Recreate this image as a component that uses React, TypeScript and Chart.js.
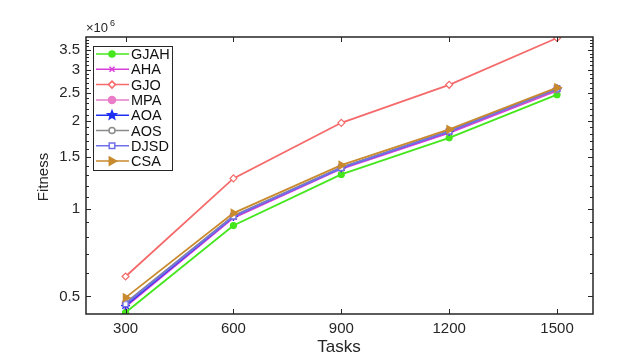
import React, { useEffect, useRef } from "react";
import { Chart, registerables } from "chart.js";

Chart.register(...registerables);

const tasks = [300, 600, 900, 1200, 1500];
const seriesNames = ["GJAH", "AHA", "GJO", "MPA", "AOA", "AOS", "DJSD", "CSA"];
const GJAH = [0.44, 0.875, 1.31, 1.75, 2.46];
const AHA = [0.46, 0.93, 1.37, 1.82, 2.54];
const GJO = [0.585, 1.27, 1.97, 2.66, 3.85];
const MPA = [0.47, 0.94, 1.38, 1.84, 2.57];
const AOA = [0.465, 0.94, 1.38, 1.84, 2.58];
const AOS = [0.475, 0.945, 1.385, 1.845, 2.57];
const DJSD = [0.47, 0.94, 1.38, 1.84, 2.58];
const CSA = [0.495, 0.965, 1.41, 1.87, 2.6];
const yTickLabels = [0.5, 1, 1.5, 2, 2.5, 3, 3.5];
const scaleFactor = 1e6;

const seriesValues = [GJAH, AHA, GJO, MPA, AOA, AOS, DJSD, CSA];
const colors = ["#44e61c", "#d93fd9", "#f56a6a", "#ea7cc8", "#1f2ff0", "#8a8a8a", "#7070e8", "#c98a2e"];
const markers: any[] = ["circle", "crossRot", "rectRot", "circle", "star", "circle", "rect", "triangle"];
const markerFilled = [true, false, false, true, true, false, false, true];
const markerRadius = [3, 2.5, 3.5, 3.5, 4.5, 3, 3.5, 4.5];
const markerRotation = [0, 0, 0, 0, 0, 0, 0, 90];

const FONT = "'Liberation Sans', Arial, Helvetica, sans-serif";

function drawMarker(ctx: CanvasRenderingContext2D, style: string, r: number, rot: number, x: number, y: number) {
  ctx.save();
  ctx.translate(x, y);
  ctx.rotate((rot * Math.PI) / 180);
  ctx.beginPath();
  if (style === "circle") {
    ctx.arc(0, 0, r, 0, Math.PI * 2);
    ctx.fill();
    ctx.stroke();
  } else if (style === "rect") {
    const s = r * 0.8;
    ctx.rect(-s, -s, 2 * s, 2 * s);
    ctx.fill();
    ctx.stroke();
  } else if (style === "rectRot") {
    ctx.moveTo(0, -r);
    ctx.lineTo(r, 0);
    ctx.lineTo(0, r);
    ctx.lineTo(-r, 0);
    ctx.closePath();
    ctx.fill();
    ctx.stroke();
  } else if (style === "triangle") {
    ctx.moveTo(0, -r);
    ctx.lineTo(r * 0.9, r * 0.6);
    ctx.lineTo(-r * 0.9, r * 0.6);
    ctx.closePath();
    ctx.fill();
    ctx.stroke();
  } else if (style === "crossRot") {
    ctx.moveTo(-r, -r);
    ctx.lineTo(r, r);
    ctx.moveTo(r, -r);
    ctx.lineTo(-r, r);
    ctx.stroke();
  } else if (style === "star") {
    for (let k = 0; k < 5; k++) {
      const a1 = -Math.PI / 2 + (k * 2 * Math.PI) / 5;
      const a2 = a1 + Math.PI / 5;
      ctx.lineTo(Math.cos(a1) * r, Math.sin(a1) * r);
      ctx.lineTo(Math.cos(a2) * r * 0.45, Math.sin(a2) * r * 0.45);
    }
    ctx.closePath();
    ctx.fill();
    ctx.stroke();
  }
  ctx.restore();
}

const overlay = {
  id: "overlay",
  afterDraw(chart: any) {
    const ctx = chart.ctx as CanvasRenderingContext2D;
    const { left, right, top, bottom } = chart.chartArea;
    const ys = chart.scales.y;
    const xs = chart.scales.x;
    ctx.save();
    ctx.strokeStyle = "#262626";
    ctx.lineWidth = 1.5;
    ctx.strokeRect(left, top, right - left, bottom - top);
    ctx.lineWidth = 1;
    for (let v = 0.5; v <= 3.85; v += 0.1) {
      const y = Math.round(ys.getPixelForValue(v * scaleFactor)) + 0.5;
      if (y < top || y > bottom) continue;
      ctx.beginPath();
      ctx.moveTo(left, y);
      ctx.lineTo(left + 3, y);
      ctx.moveTo(right, y);
      ctx.lineTo(right - 3, y);
      ctx.stroke();
    }
    for (const v of yTickLabels) {
      const y = Math.round(ys.getPixelForValue(v * scaleFactor)) + 0.5;
      ctx.beginPath();
      ctx.moveTo(left, y);
      ctx.lineTo(left + 5, y);
      ctx.moveTo(right, y);
      ctx.lineTo(right - 5, y);
      ctx.stroke();
    }
    for (const t of tasks) {
      const x = Math.round(xs.getPixelForValue(t)) + 0.5;
      ctx.beginPath();
      ctx.moveTo(x, bottom);
      ctx.lineTo(x, bottom - 5);
      ctx.moveTo(x, top);
      ctx.lineTo(x, top + 5);
      ctx.stroke();
    }
    ctx.fillStyle = "#262626";
    ctx.font = `13px ${FONT}`;
    ctx.textBaseline = "alphabetic";
    ctx.textAlign = "left";
    ctx.fillText("×10", left, top - 5);
    ctx.font = `9px ${FONT}`;
    ctx.fillText("6", left + 24, top - 11);
    ctx.font = `17px ${FONT}`;
    ctx.textAlign = "center";
    ctx.textBaseline = "middle";
    ctx.fillText("Tasks", 339, 347);
    ctx.font = `15px ${FONT}`;
    ctx.save();
    ctx.translate(44, 177);
    ctx.rotate(-Math.PI / 2);
    ctx.fillText("Fitness", 0, 0);
    ctx.restore();
    const lx = 93, ly = 46, lw = 79, lh = 124;
    ctx.fillStyle = "#ffffff";
    ctx.fillRect(lx, ly, lw, lh);
    ctx.strokeStyle = "#262626";
    ctx.lineWidth = 1;
    ctx.strokeRect(lx + 0.5, ly + 0.5, lw, lh);
    seriesNames.forEach((name, i) => {
      const y = 54 + i * 15.3;
      ctx.strokeStyle = colors[i];
      ctx.lineWidth = 1.5;
      ctx.beginPath();
      ctx.moveTo(96, y);
      ctx.lineTo(129, y);
      ctx.stroke();
      ctx.fillStyle = markerFilled[i] ? colors[i] : "#ffffff";
      drawMarker(ctx, markers[i], markerRadius[i], markerRotation[i], 112, y);
      ctx.fillStyle = "#111";
      ctx.font = `14.5px ${FONT}`;
      ctx.textAlign = "left";
      ctx.textBaseline = "middle";
      ctx.fillText(name, 131, y + 1);
    });
    ctx.restore();
  },
};

export default function App() {
  const ref = useRef<HTMLCanvasElement | null>(null);
  useEffect(() => {
    if (!ref.current) return;
    const datasets = seriesNames.map((name, i) => ({
      label: name,
      data: tasks.map((t, j) => ({ x: t, y: seriesValues[i][j] * scaleFactor })),
      borderColor: colors[i],
      backgroundColor: markerFilled[i] ? colors[i] : "#ffffff",
      pointStyle: markers[i],
      pointRadius: markerRadius[i],
      pointRotation: markerRotation[i],
      pointBorderColor: colors[i],
      pointBackgroundColor: markerFilled[i] ? colors[i] : "#ffffff",
      pointBorderWidth: 1.2,
      borderWidth: 1.8,
      tension: 0,
      fill: false,
      order: seriesNames.length - 1 - i,
    }));
    const chart = new Chart(ref.current, {
      type: "line",
      data: { datasets },
      options: {
        animation: false,
        responsive: false,
        devicePixelRatio: 1,
        layout: { padding: { left: 0, top: 37, right: 44, bottom: 0 } },
        plugins: { legend: { display: false }, tooltip: { enabled: false } },
        scales: {
          x: {
            type: "linear",
            min: 190,
            max: 1600,
            grid: { display: false, tickLength: 0 },
            border: { display: false },
            afterBuildTicks: (s: any) => {
              s.ticks = tasks.map((t) => ({ value: t }));
            },
            afterFit: (s: any) => {
              s.height = 43;
            },
            ticks: {
              padding: 6,
              color: "#262626",
              font: { family: FONT, size: 15 },
              maxRotation: 0,
              callback: (v: any) => String(v),
            },
          },
          y: {
            type: "logarithmic",
            min: 0.435 * scaleFactor,
            max: 3.88 * scaleFactor,
            grid: { display: false, tickLength: 0 },
            border: { display: false },
            afterBuildTicks: (s: any) => {
              s.ticks = yTickLabels.map((v) => ({ value: v * scaleFactor }));
            },
            afterFit: (s: any) => {
              s.width = 86;
            },
            ticks: {
              padding: 6,
              color: "#262626",
              font: { family: FONT, size: 15 },
              callback: (v: any) => String(Number(v) / scaleFactor),
            },
          },
        },
      } as any,
      plugins: [overlay],
    });
    return () => chart.destroy();
  }, []);
  return (
    <div style={{ position: "fixed", left: 0, top: 0, width: 637, height: 357, background: "#fff" }}>
      <canvas ref={ref} width={637} height={357} style={{ width: 637, height: 357, display: "block" }} />
    </div>
  );
}
